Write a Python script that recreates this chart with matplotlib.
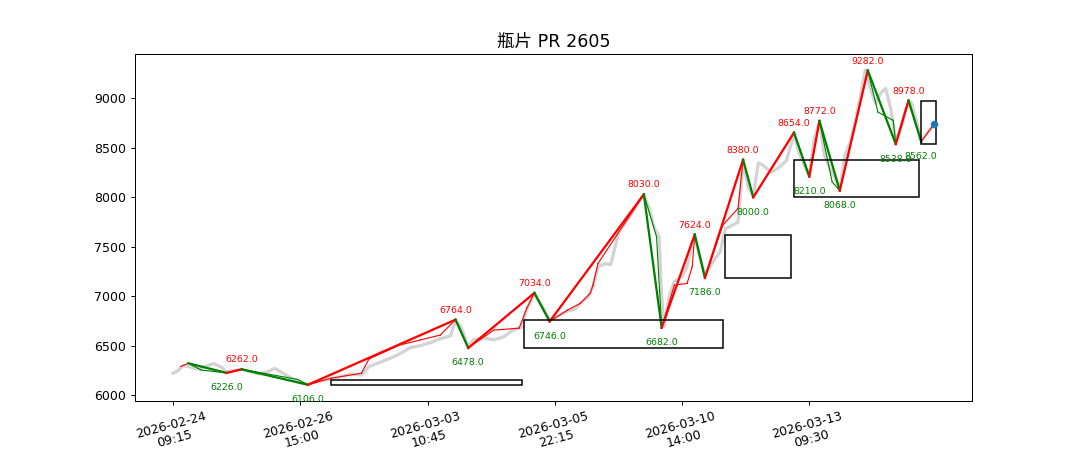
import matplotlib
matplotlib.use("Agg")
import matplotlib.pyplot as plt
from matplotlib.patches import Rectangle

plt.rcParams['font.family'] = ['DejaVu Sans', 'Noto Sans CJK SC']

title = "瓶片 PR 2605"

# x tick labels (bar index positions)
tick_pos = [0, 50, 100, 150, 200, 250]
tick_labels = ["2026-02-24\n09:15", "2026-02-26\n15:00", "2026-03-03\n10:45",
               "2026-03-05\n22:15", "2026-03-10\n14:00", "2026-03-13\n09:30"]

# grey price trace (bar index, price)
grey_idx = [0, 2, 4, 7, 10, 13, 16, 19, 21, 24, 27, 30, 34, 37, 40, 43, 47, 50, 53,
            57, 62, 66, 70, 74, 77, 81, 86, 90, 93, 97, 101, 105, 109, 111, 113, 116,
            118, 122, 126, 130, 133, 137, 139, 142, 145, 148,
            151, 155, 158, 160, 163, 165, 167, 170, 172,
            175, 180, 184, 185, 187, 189, 191, 192, 193,
            195, 197, 200, 202, 204, 205, 207, 209, 211, 213, 215, 217, 220, 222,
            224, 226, 228, 230, 232, 235, 238, 241, 244,
            246, 248, 250, 252, 254, 256, 258, 260, 262, 264, 266, 268, 270, 272,
            274, 276, 278, 280, 282, 284, 286, 288, 290, 292, 294, 296, 298, 299]
grey_val = [6222, 6250, 6300, 6285, 6265, 6295, 6320, 6285, 6235, 6250, 6262, 6240, 6215, 6235, 6272, 6225, 6165, 6130, 6110,
            6140, 6165, 6190, 6215, 6205, 6290, 6330, 6380, 6430, 6480, 6500, 6530, 6570, 6600, 6750, 6700, 6490,
            6560, 6580, 6560, 6590, 6650, 6690, 6870, 7020, 6900, 6760,
            6800, 6850, 6870, 6930, 6990, 7100, 7300, 7330, 7320,
            7640, 7830, 7990, 8020, 7900, 7700, 7600, 7000, 6700,
            7000, 7150, 7200, 7300, 7550, 7600, 7400, 7220, 7300, 7380, 7450, 7680, 7720, 7750,
            8360, 8100, 8010, 8350, 8320, 8250, 8300, 8370, 8640,
            8450, 8330, 8220, 8600, 8760, 8420, 8300, 8200, 8080, 8420, 8550, 8760, 9000, 9285,
            9100, 8950, 9050, 9100, 8900, 8560, 8700, 8900, 8960, 8780, 8570, 8640, 8700, 8740]

# main swing pivots
pivot_idx = [6, 21, 27, 53, 111, 116, 142, 148, 185, 192, 205, 209, 224, 228,
             244, 250, 254, 262, 273, 284, 289, 294]
pivot_val = [6323, 6226, 6262, 6106, 6764, 6478, 7034, 6746, 8030, 6682, 7624, 7186,
             8380, 8000, 8654, 8210, 8772, 8068, 9282, 8538, 8978, 8562]

# minor swing line
minor_idx = [3, 6, 11, 21, 27, 49, 53, 62, 74, 77, 89, 97, 105, 111, 116, 126, 136, 139,
             142, 148, 155, 160, 164, 165, 167, 185, 190, 192, 197, 202, 204, 205, 209,
             216, 222, 224, 228, 244, 250, 254, 259, 262, 273, 277, 283, 284, 289, 294, 299]
minor_val = [6290, 6323, 6255, 6226, 6262, 6160, 6106, 6172, 6222, 6367, 6507, 6558, 6608,
             6764, 6478, 6658, 6678, 6880, 7034, 6746, 6860, 6928, 7032, 7112, 7332, 8030,
             7600, 6682, 7113, 7130, 7297, 7624, 7186, 7718, 7887, 8380, 8000, 8654, 8210,
             8772, 8155, 8068, 9282, 8861, 8777, 8538, 8978, 8562, 8740]

# boxes
box_x0 = [62, 138, 217, 244, 294]
box_x1 = [137, 216, 243, 293, 300]
box_lo = [6106, 6478, 7186, 8000, 8538]
box_hi = [6156, 6764, 7624, 8380, 8978]

last_idx = 299
last_val = 8740

fig, ax = plt.subplots(figsize=(12, 5), dpi=90)

ax.plot(grey_idx, grey_val, color='#d3d3d3', lw=2.6, zorder=1)

for i in range(len(minor_idx) - 1):
    c = 'red' if minor_val[i + 1] > minor_val[i] else 'green'
    ax.plot(minor_idx[i:i + 2], minor_val[i:i + 2], color=c, lw=0.9, zorder=2)

for i in range(len(pivot_idx) - 1):
    c = 'red' if pivot_val[i + 1] > pivot_val[i] else 'green'
    ax.plot(pivot_idx[i:i + 2], pivot_val[i:i + 2], color=c, lw=1.8, zorder=3)

for i in range(1, len(pivot_idx)):
    is_high = pivot_val[i] > pivot_val[i - 1]
    ax.annotate(f"{pivot_val[i]:.1f}", (pivot_idx[i], pivot_val[i]),
                xytext=(0, 7.5 if is_high else -12), textcoords='offset points',
                ha='center', va='center', fontsize=7.5,
                color='red' if is_high else 'green', zorder=5)

for x0, x1, lo, hi in zip(box_x0, box_x1, box_lo, box_hi):
    ax.add_patch(Rectangle((x0, lo), x1 - x0, hi - lo, fill=False,
                           edgecolor='black', lw=1.2, zorder=4))

ax.plot([last_idx], [last_val], 'o', color='C0', markersize=5, zorder=6)

ax.set_xlim(-0.05 * 299, 299 * 1.05)
ax.set_ylim(5947, 9448)
ax.set_xticks(tick_pos)
ax.set_xticklabels(tick_labels, rotation=15, ha='center')
ax.set_title(title, fontsize=14, family=['DejaVu Sans', 'Noto Sans CJK SC'])

fig.savefig('out.png', dpi=90)
